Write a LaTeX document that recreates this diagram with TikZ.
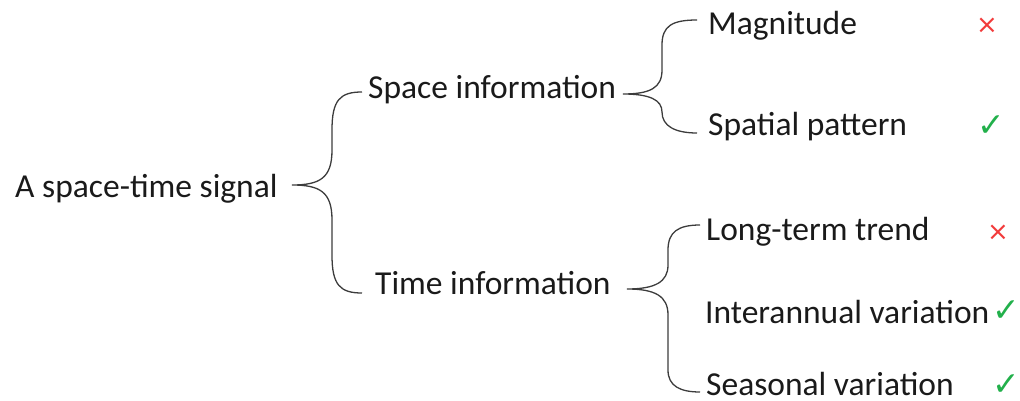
\documentclass[tikz,border=0pt]{standalone}
\usepackage{fontspec}
\setmainfont{Carlito}
\newfontfamily\symfont{DejaVu Sans}
\definecolor{txt}{HTML}{1A1A1A}
\definecolor{crossred}{HTML}{F23A3A}
\definecolor{checkgreen}{HTML}{22B04B}
\begin{document}
\begin{tikzpicture}[x=1pt,y=-1pt,
  lbl/.style={anchor=base west,inner sep=0pt,font=\fontsize{33.5}{38}\selectfont,text=txt},
  brace/.style={draw=txt!85,line width=1.3pt},
  no/.style={inner sep=0pt,font=\symfont\fontsize{26}{30}\selectfont,text=crossred},
  yes/.style={inner sep=0pt,font=\symfont\fontsize{33}{38}\selectfont,text=checkgreen}]
\useasboundingbox (0,0) rectangle (1020,401);
\node[lbl] (root) at (15,197) {A space-time signal};
\node[lbl] (space) at (368,99) {Space information};
\node[lbl] (time) at (375,294) {Time information};
\node[lbl] (mag) at (708,35) {Magnitude};
\node[lbl] (spat) at (708,136) {Spatial pattern};
\node[lbl] (long) at (706,240) {Long-term trend};
\node[lbl] (inter) at (705,323) {Interannual variation};
\node[lbl] (seas) at (706,395) {Seasonal variation};
\node[no] (x1) at (987,26) {×};
\node[yes] (c1) at (991,126) {✓};
\node[no] (x2) at (998,233) {×};
\node[yes] (c2) at (1006,311) {✓};
\node[yes] (c3) at (1006,385) {✓};
% brace 1
\coordinate (t1) at (292,185);
\coordinate (a1) at (362,92);
\coordinate (b1) at (362,293);
\draw[brace] (a1) .. controls (340,92) and (332,100) .. (332,130) -- (332,150) .. controls (332,178) and (320,185) .. (t1)
  .. controls (320,185) and (332,192) .. (332,220) -- (332,255) .. controls (332,285) and (340,293) .. (b1);
% brace 2
\coordinate (t2) at (623,94);
\coordinate (a2) at (697,20);
\coordinate (b2) at (697,133);
\draw[brace] (a2) .. controls (672,20) and (662,26) .. (662,45) -- (662,70) .. controls (662,88) and (650,94) .. (t2)
  .. controls (650,94) and (662,100) .. (662,112) .. controls (662,126) and (675,133) .. (b2);
% brace 3
\coordinate (t3) at (627,289);
\coordinate (a3) at (700,225);
\coordinate (b3) at (700,392);
\draw[brace] (a3) .. controls (678,225) and (668,232) .. (668,250) -- (668,265) .. controls (668,282) and (655,289) .. (t3)
  .. controls (655,289) and (668,296) .. (668,315) -- (668,370) .. controls (668,386) and (680,392) .. (b3);
\end{tikzpicture}
\end{document}
